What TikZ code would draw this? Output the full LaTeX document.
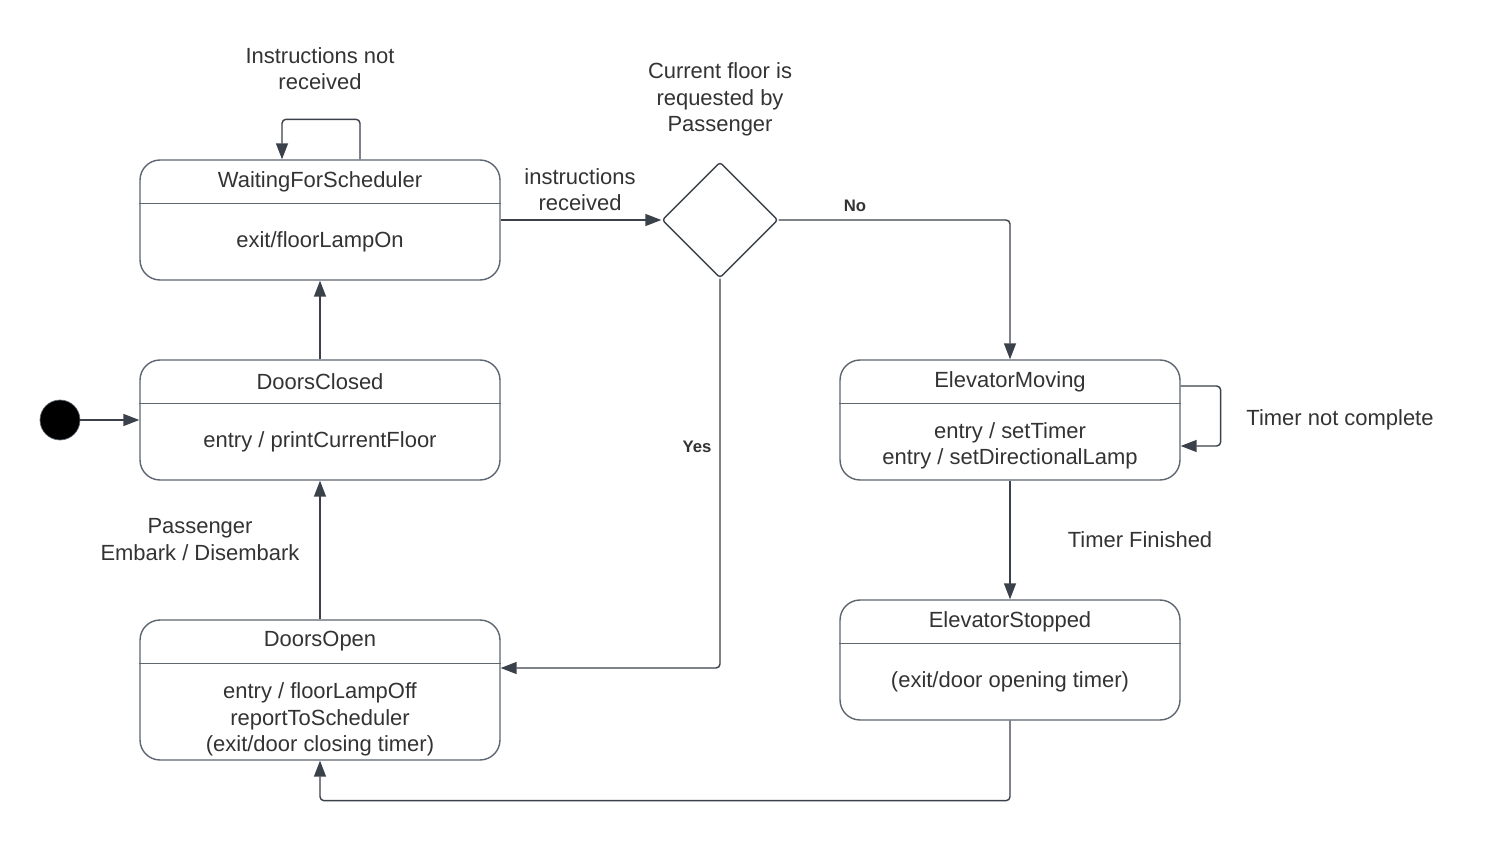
\documentclass[tikz,border=0pt]{standalone}
\usepackage{fontspec}
\setmainfont{Liberation Sans}
\usetikzlibrary{arrows.meta,shapes.geometric}

\definecolor{linecol}{HTML}{3A414A}
\definecolor{boxcol}{HTML}{5E6670}
\definecolor{textcol}{HTML}{333333}

\begin{document}
\begin{tikzpicture}[x=0.02cm,y=-0.02cm,
  font=\fontsize{12.5}{15}\selectfont, text=textcol,
  statebox/.style={draw=boxcol,line width=0.8pt,rounded corners=0.4cm,minimum width=7.2cm,minimum height=2.4cm},
  txt/.style={align=center,inner sep=0pt,yshift=-0.05cm},
  arr/.style={draw=linecol,line width=0.8pt,rounded corners=0.08cm,-{Triangle[length=0.32cm,width=0.24cm]}},
  guard/.style={font=\fontsize{9.5}{11}\selectfont\bfseries}]
\useasboundingbox (0,0) rectangle (1500,841);

% states
\node [statebox] (wait) at (320,220) {};
\node [statebox] (closed) at (320,420) {};
\node [statebox,minimum height=2.8cm] (open) at (320,690) {};
\node [statebox,minimum width=6.8cm] (moving) at (1010,420) {};
\node [statebox,minimum width=6.8cm] (stopped) at (1010,660) {};
\foreach \s in {wait,closed,open,moving,stopped}
  \draw [boxcol,line width=0.8pt] ([yshift=-0.88cm]\s.north west) -- ([yshift=-0.88cm]\s.north east);

\node [txt] (waitT) at (320,179) {WaitingForScheduler};
\node [txt] (waitB) at (320,239) {exit/floorLampOn};
\node [txt] (closedT) at (320,379) {DoorsClosed};
\node [txt] (closedB) at (320,439) {entry / printCurrentFloor};
\node [txt] (openT) at (320,639) {DoorsOpen};
\node [txt] (openB) at (320,717) {entry / floorLampOff\\reportToScheduler\\(exit/door closing timer)};
\node [txt] (movingT) at (1010,379) {ElevatorMoving};
\node [txt] (movingB) at (1010,443) {entry / setTimer\\entry / setDirectionalLamp};
\node [txt] (stoppedT) at (1010,619) {ElevatorStopped};
\node [txt] (stoppedB) at (1010,679) {(exit/door opening timer)};

% initial state and choice
\node [circle,fill=black,draw=boxcol,minimum size=0.8cm,inner sep=0pt] (init) at (60,420) {};
\node [diamond,draw=linecol,line width=0.8pt,rounded corners=0.06cm,minimum width=2.32cm,minimum height=2.32cm,inner sep=0pt] (choice) at (720,220) {};

% transitions
\draw [arr] (init) -- (closed);
\draw [arr] (closed) -- (wait);
\draw [arr] (open) -- (closed);
\draw [arr] (wait.east) -- (choice.west);
\draw [arr] ([xshift=0.8cm]wait.north) -- ++(0,-40) -| ([xshift=-0.76cm]wait.north);
\draw [arr] (choice.east) -| (moving.north);
\draw [arr] (choice.south) |- ([yshift=0.44cm]open.east);
\draw [arr] ([yshift=0.68cm]moving.east) -- ++(40,0) |- ([yshift=-0.52cm]moving.east);
\draw [arr] (moving) -- (stopped);
\draw [arr] (stopped.south) -- ++(0,80) -| (open.south);

% labels
\node [txt] (lblLoop) at (320,66) {Instructions not\\received};
\node [txt] (lblRecv) at (580,187) {instructions\\received};
\node [txt] (lblChoice) at (720,97) {Current floor is\\requested by\\Passenger};
\node [txt,guard] (lblNo) at (855,203) {No};
\node [txt,guard] (lblYes) at (697,444) {Yes};
\node [txt] (lblTimer) at (1340,417) {Timer not complete};
\node [txt] (lblFinished) at (1140,537) {Timer Finished};
\node [txt] (lblPass) at (200,537) {Passenger\\Embark / Disembark};
\end{tikzpicture}
\end{document}
